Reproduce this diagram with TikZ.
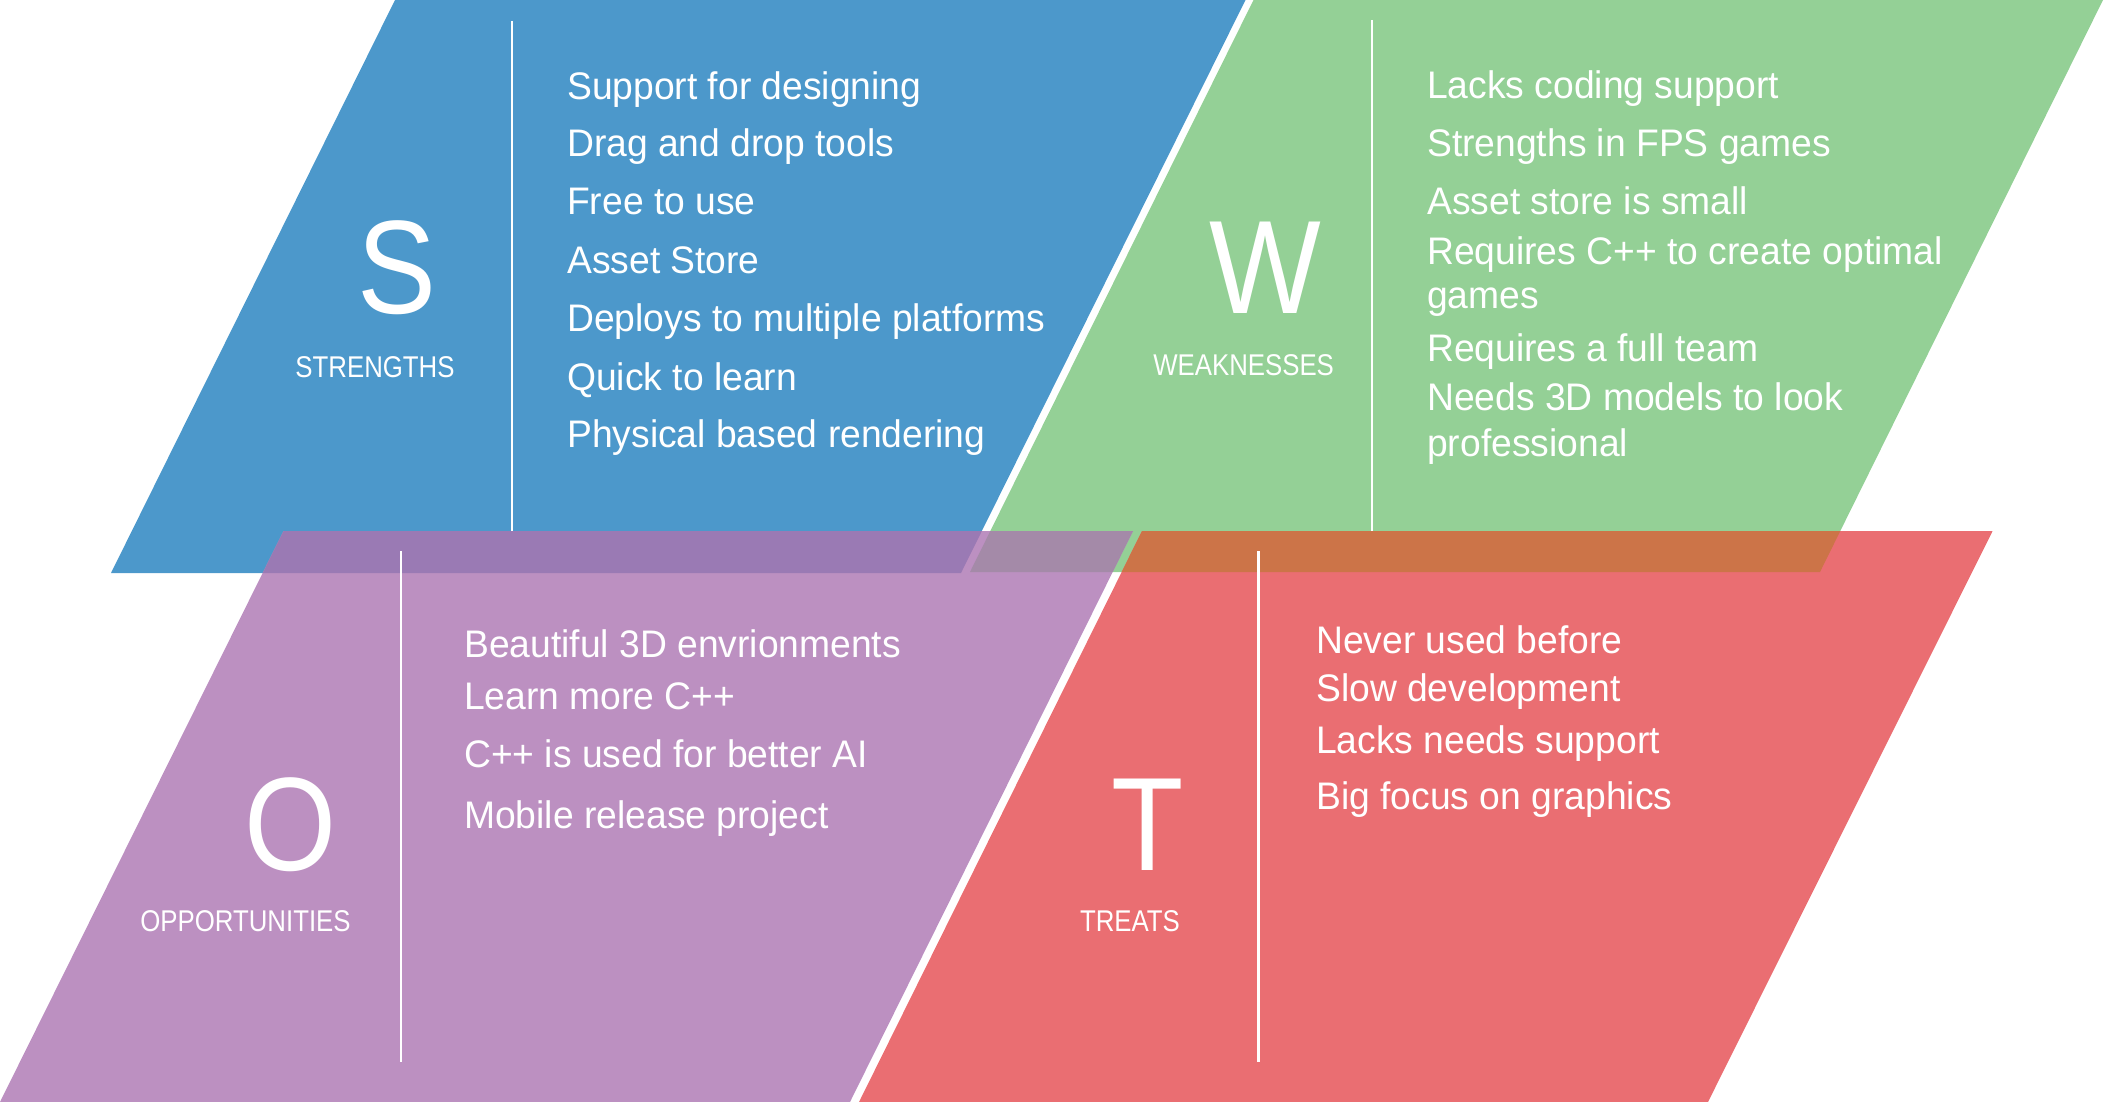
\documentclass[tikz,border=0pt]{standalone}
\usepackage{fontspec}
\setmainfont{Liberation Sans}
\newfontfamily\itemfont{Liberation Sans}[FakeStretch=0.97]
\newfontfamily\capfont{Liberation Sans}[FakeStretch=0.86]
\newfontfamily\letterfont{Liberation Sans}[FakeStretch=0.89]

\definecolor{sblue}{RGB}{76,152,203}
\definecolor{wgreen}{RGB}{148,208,150}
\definecolor{opurple}{RGB}{188,144,193}
\definecolor{tred}{RGB}{234,110,114}
\definecolor{bpmix}{RGB}{154,122,180}
\definecolor{gpmix}{RGB}{164,138,168}
\definecolor{grmix}{RGB}{204,116,72}

\tikzset{
  item/.style={anchor=base west, inner sep=0pt, text=white,
    font=\itemfont\fontsize{38.4}{42}\selectfont},
  caption/.style={anchor=base, inner sep=0pt, text=white,
    font=\capfont\fontsize{30}{32}\selectfont},
  letter/.style={anchor=base, inner sep=0pt, text=white,
    font=\letterfont\fontsize{133}{140}\selectfont},
  divider/.style={draw=white, line width=2.2pt},
}

\begin{document}
\begin{tikzpicture}[x=1pt, y=-1pt]
\useasboundingbox (0,0) rectangle (2105,1102);

% corner points of the four slanted panels
\coordinate (b1) at (111,573);  \coordinate (b2) at (395,0);
\coordinate (b3) at (1245.5,0); \coordinate (b4) at (961,573);
\coordinate (g1) at (970,572);  \coordinate (g2) at (1253.5,0);
\coordinate (g3) at (2103,0);   \coordinate (g4) at (1820,572);
\coordinate (p1) at (0,1102);   \coordinate (p2) at (283.5,531);
\coordinate (p3) at (1133,531); \coordinate (p4) at (850,1102);
\coordinate (r1) at (859,1102); \coordinate (r2) at (1142,531);
\coordinate (r3) at (1992.6,531); \coordinate (r4) at (1708,1102);

% upper row
\fill[sblue]  (b1) -- (b2) -- (b3) -- (b4) -- cycle;
\fill[wgreen] (g1) -- (g2) -- (g3) -- (g4) -- cycle;
\coordinate (sd1) at (512,21);   \coordinate (sd2) at (512,572);
\coordinate (wd1) at (1372,20);  \coordinate (wd2) at (1372,572);
\draw[divider] (sd1) -- (sd2);
\draw[divider] (wd1) -- (wd2);

% lower row
\fill[opurple] (p1) -- (p2) -- (p3) -- (p4) -- cycle;
\fill[tred]    (r1) -- (r2) -- (r3) -- (r4) -- cycle;

% overlapping bands
\begin{scope}
  \clip (p1) -- (p2) -- (p3) -- (p4) -- cycle;
  \fill[bpmix] (b1) -- (b2) -- (b3) -- (b4) -- cycle;
  \fill[gpmix] (g1) -- (g2) -- (g3) -- (g4) -- cycle;
\end{scope}
\begin{scope}
  \clip (r1) -- (r2) -- (r3) -- (r4) -- cycle;
  \fill[grmix] (g1) -- (g2) -- (g3) -- (g4) -- cycle;
\end{scope}

\coordinate (od1) at (401,551);    \coordinate (od2) at (401,1061.6);
\coordinate (td1) at (1258.5,551); \coordinate (td2) at (1258.5,1061.6);
\draw[divider] (od1) -- (od2);
\draw[divider] (td1) -- (td2);

% big letters and captions
\node[letter]  (S)  at (397,313)  {S};
\node[caption] (Sc) at (375,377)  {STRENGTHS};
\node[letter]  (W)  at (1265,313) {W};
\node[caption] (Wc) at (1243.6,375) {WEAKNESSES};
\node[letter]  (O)  at (291,870)  {O};
\node[caption] (Oc) at (245.5,931.5) {OPPORTUNITIES};
\node[letter]  (T)  at (1148,870) {T};
\node[caption] (Tc) at (1130,931.5) {TREATS};

% strengths
\node[item] (s1) at (567,99.5)  {Support for designing};
\node[item] (s2) at (567,157)   {Drag and drop tools};
\node[item] (s3) at (567,214.4) {Free to use};
\node[item] (s4) at (567,273.7) {Asset Store};
\node[item] (s5) at (567,331)   {Deploys to multiple platforms};
\node[item] (s6) at (567,390.4) {Quick to learn};
\node[item] (s7) at (567,447.8) {Physical based rendering};

% weaknesses
\node[item] (w1) at (1427,98.5)  {Lacks coding support};
\node[item] (w2) at (1427,156.5) {Strengths in FPS games};
\node[item] (w3) at (1427,214.5) {Asset store is small};
\node[item] (w4) at (1427,264.5) {Requires C++ to create optimal};
\node[item] (w4b) at (1427,308.5) {games};
\node[item] (w5) at (1427,361)   {Requires a full team};
\node[item] (w6) at (1427,410.5) {Needs 3D models to look};
\node[item] (w6b) at (1427,456)  {professional};

% opportunities
\node[item] (o1) at (464,657.5) {Beautiful 3D envrionments};
\node[item] (o2) at (464,709)   {Learn more C++};
\node[item] (o3) at (464,767)   {C++ is used for better AI};
\node[item] (o4) at (464,828)   {Mobile release project};

% threats
\node[item] (t1) at (1316,653.6) {Never used before};
\node[item] (t2) at (1316,701)   {Slow development};
\node[item] (t3) at (1316,753.5) {Lacks needs support};
\node[item] (t4) at (1316,809)   {Big focus on graphics};
\end{tikzpicture}
\end{document}
